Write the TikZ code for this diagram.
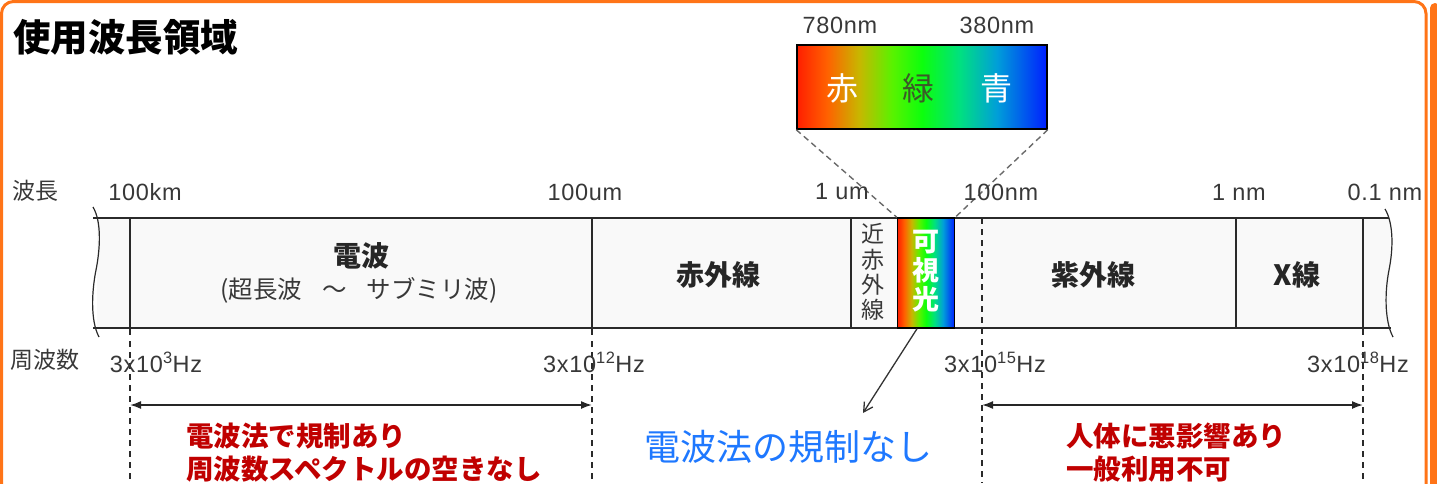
\documentclass[tikz,border=0pt]{standalone}
\usepackage{fontspec}
\setmainfont{Liberation Sans}
\newfontfamily\labfont[LetterSpace=3]{Liberation Sans}
\newfontfamily\jp{Noto Sans CJK JP}
\usetikzlibrary{arrows.meta}
\definecolor{frameorange}{HTML}{FF7417}
\definecolor{labelgray}{HTML}{383838}
\definecolor{linegray}{HTML}{2A2A2A}
\definecolor{bandfill}{HTML}{F9F9F9}
\definecolor{noteRed}{HTML}{C00000}
\definecolor{noteBlue}{HTML}{1E78FF}
\definecolor{greenText}{HTML}{3C5A28}
\definecolor{dashgray}{HTML}{6A6A6A}
\pgfdeclarehorizontalshading{spec}{100bp}{rgb(0bp)=(1,0.12,0); rgb(25bp)=(1,0.12,0); rgb(31bp)=(1,0.38,0); rgb(37.5bp)=(0.78,0.72,0); rgb(44bp)=(0.35,0.95,0); rgb(50bp)=(0.05,1,0.05); rgb(57.5bp)=(0,0.88,0.5); rgb(65bp)=(0,0.62,0.85); rgb(75bp)=(0,0.12,1); rgb(100bp)=(0,0.12,1)}
\begin{document}
\begin{tikzpicture}[x=1pt,y=-1pt,
  lat/.style={inner sep=0pt, text=labelgray, font=\labfont\fontsize{23.5}{26}\selectfont},
  jlab/.style={inner sep=0pt, text=labelgray, font=\jp\fontsize{23}{26}\selectfont},
  cellb/.style={inner sep=0pt, text=black!85, font=\jp\bfseries\fontsize{28}{30}\selectfont},
  bandline/.style={draw=linegray, line width=1.6pt},
  divider/.style={draw=linegray, line width=1.5pt},
  guide/.style={draw=linegray, line width=1.4pt, dash pattern=on 6pt off 5pt},
  zoomline/.style={draw=dashgray, line width=1.4pt, dash pattern=on 6pt off 4pt},
  span/.style={draw=black!85, line width=1.6pt, {Latex[length=11pt,width=8pt]}-{Latex[length=11pt,width=8pt]}},
  note/.style={inner sep=0pt, anchor=west, font=\jp\bfseries\fontsize{27.5}{33}\selectfont, text=noteRed, align=left}
]
\useasboundingbox (0,0) rectangle (1437,483);
% frame
\fill[frameorange, rounded corners=5pt] (1430,3) rectangle (1440,540);
\draw[frameorange, line width=3pt, rounded corners=12pt] (1.5,1.5) rectangle (1426,540);
% title
\node[inner sep=0pt, anchor=west, font=\jp\bfseries\fontsize{37.5}{40}\selectfont] (title) at (13,37) {使用波長領域};
% band
\fill[bandfill] (97,218) rectangle (1390,328);
\draw[bandline] (93,218) -- (1389,218);
\draw[bandline] (93,328) -- (1391,328);
\draw[linegray, line width=1.2pt] (93,207) .. controls (102,222) and (100,250) .. (96,270) .. controls (92,290) and (90,320) .. (99,337);
\draw[linegray, line width=1.2pt] (1385,209) .. controls (1394,224) and (1393,250) .. (1389,270) .. controls (1385,290) and (1384,320) .. (1393,337);
% dividers
\coordinate (a1) at (130,218); \coordinate (a2) at (130,335); \coordinate (a3) at (130,341); \coordinate (a4) at (130,483);
\coordinate (b1) at (592,218); \coordinate (b2) at (592,335); \coordinate (b3) at (592,341); \coordinate (b4) at (592,483);
\coordinate (c1) at (851,218); \coordinate (c2) at (851,328);
\coordinate (d1) at (982,218); \coordinate (d4) at (982,483);
\coordinate (e1) at (1236,218); \coordinate (e2) at (1236,328);
\coordinate (f1) at (1363,218); \coordinate (f2) at (1363,335); \coordinate (f3) at (1363,341); \coordinate (f4) at (1363,483);
\draw[divider] (a1) -- (a2); \draw[guide] (a3) -- (a4);
\draw[divider] (b1) -- (b2); \draw[guide] (b3) -- (b4);
\draw[divider] (c1) -- (c2);
\draw[guide] (d1) -- (d4);
\draw[divider] (e1) -- (e2);
\draw[divider] (f1) -- (f2); \draw[guide] (f3) -- (f4);
% visible light cell
\node[draw=black, line width=1.5pt, shade, shading=spec, minimum width=57pt, minimum height=110pt, inner sep=0pt] (vis) at (926,273) {};
\node[inner sep=0pt, text=white, font=\jp\bfseries\fontsize{27}{29}\selectfont, align=center] (vistext) at (926,271) {可\\視\\光};
% zoomed spectrum
\node[draw=black, line width=1.5pt, shade, shading=spec, minimum width=250pt, minimum height=84pt, inner sep=0pt] (spec) at (922,87) {};
\node[inner sep=0pt, text=white, font=\jp\fontsize{32}{34}\selectfont] (red) at (842,88) {赤};
\node[inner sep=0pt, text=greenText, font=\jp\fontsize{32}{34}\selectfont] (green) at (918,88) {緑};
\node[inner sep=0pt, text=white, font=\jp\fontsize{32}{34}\selectfont] (blue) at (996,88) {青};
\node[lat] (w780) at (840,25) {780nm};
\node[lat] (w380) at (997,25) {380nm};
\draw[zoomline] (spec.south west) -- (vis.north west);
\draw[zoomline] (spec.south east) -- (vis.north east);
% band labels
\node[cellb] (radio) at (361,256) {電波};
\node[inner sep=0pt, text=labelgray, font=\jp\fontsize{24.5}{26}\selectfont] (radiosub) at (359,290) {(超長波\hspace{20pt}～\hspace{20pt}サブミリ波)};
\node[cellb] (ir) at (718,275) {赤外線};
\node[inner sep=0pt, text=labelgray, font=\jp\fontsize{23}{25.3}\selectfont, align=center] (nir) at (873,272) {近\\赤\\外\\線};
\node[cellb] (uv) at (1093,275) {紫外線};
\node[cellb] (xray) at (1297,275) {X線};
% wavelength labels
\node[jlab, anchor=west] (wl) at (12,191) {波長};
\node[lat] (l1) at (145,192) {100km};
\node[lat] (l2) at (585,192) {100um};
\node[lat] (l3) at (842,192) {1 um};
\node[lat] (l4) at (1001,192) {100nm};
\node[lat] (l5) at (1239,192) {1 nm};
\node[lat] (l6) at (1385,192) {0.1 nm};
% frequency labels
\node[jlab, anchor=west] (fq) at (10,360) {周波数};
\node[lat] (h1) at (156,362) {3x10\textsuperscript{3}Hz};
\node[lat] (h2) at (594,362) {3x10\textsuperscript{12}Hz};
\node[lat] (h3) at (995,362) {3x10\textsuperscript{15}Hz};
\node[lat] (h4) at (1358,362) {3x10\textsuperscript{18}Hz};
% spans
\coordinate (sL1) at (130,405); \coordinate (sL2) at (592,405);
\coordinate (sR1) at (982,405); \coordinate (sR2) at (1363,405);
\draw[span] (sL1) -- (sL2);
\draw[span] (sR1) -- (sR2);
\coordinate (noreg) at (863,413);
\draw[draw=black!80, line width=1.3pt, -{Straight Barb[length=9pt,width=10pt]}] ([xshift=-9pt]vis.south) -- (noreg);
% notes
\node[note] (n1) at (186,453) {電波法で規制あり\\周波数スペクトルの空きなし};
\node[inner sep=0pt, text=noteBlue, font=\jp\fontsize{36}{38}\selectfont] (n2) at (788,447) {電波法の規制なし};
\node[note] (n3) at (1066,453) {人体に悪影響あり\\一般利用不可};
\end{tikzpicture}
\end{document}
